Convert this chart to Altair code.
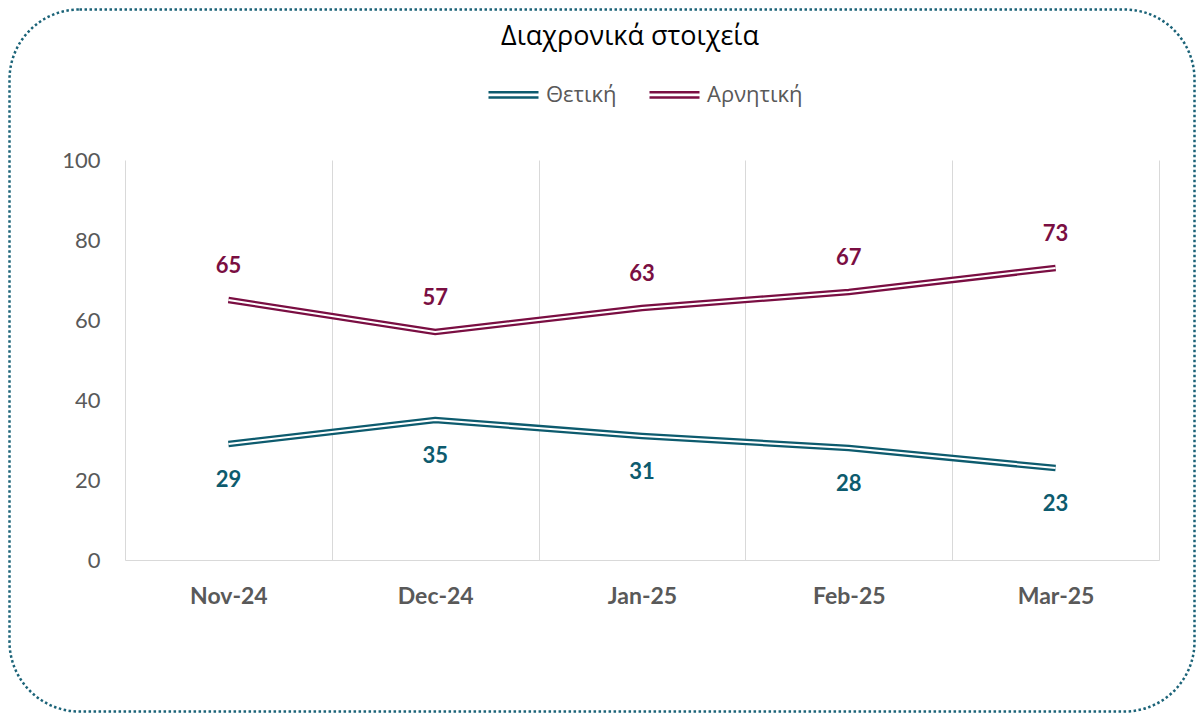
import altair as alt
import pandas as pd

months = ["Nov-24", "Dec-24", "Jan-25", "Feb-25", "Mar-25"]
series_names = ["Θετική", "Αρνητική"]
positive = [29, 35, 31, 28, 23]
negative = [65, 57, 63, 67, 73]
y_ticks = [0, 20, 40, 60, 80, 100]
colors = ["#0D5B6E", "#7A0E42"]
title_text = "Διαχρονικά στοιχεία"

rows = []
for m, v in zip(months, positive):
    rows.append({"month": m, "series": series_names[0], "value": v})
for m, v in zip(months, negative):
    rows.append({"month": m, "series": series_names[1], "value": v})
df = pd.DataFrame(rows)

W, H = 1034, 400
GREY = "#595959"

x_enc = alt.X(
    "month:N",
    sort=months,
    bandPosition=0.5,
    scale=alt.Scale(type="band", paddingInner=0, paddingOuter=0),
    axis=alt.Axis(
        title=None,
        labelAngle=0,
        grid=True,
        gridColor="#D9D9D9",
        gridWidth=1,
        tickBand="extent",
        tickExtra=True,
        ticks=False,
        tickSize=0,
        domainColor="#D9D9D9",
        domainWidth=1,
        labelFont="Lato",
        labelFontWeight="bold",
        labelFontSize=23,
        labelColor=GREY,
        labelPadding=25,
    ),
)
y_enc = alt.Y(
    "value:Q",
    scale=alt.Scale(domain=[0, 100], nice=False, zero=True),
    axis=alt.Axis(
        title=None,
        values=y_ticks,
        grid=False,
        domain=False,
        ticks=False,
        tickSize=0,
        labelFont="Lato",
        labelFontSize=22,
        labelColor=GREY,
        labelPadding=25,
    ),
)

base = alt.Chart(df)

border = alt.Chart(alt.Data(values=[{"k": 1}])).mark_rect(
    fill="transparent",
    stroke="#1B6378",
    strokeWidth=2.5,
    strokeDash=[2.5, 2.5],
    cornerRadius=70,
).encode(
    x=alt.value(-115.5),
    x2=alt.value(W + 35.5),
    y=alt.value(-150.5),
    y2=alt.value(H + 151.5),
)

lines = base.mark_line(strokeWidth=6.5, strokeCap="butt", strokeJoin="miter").encode(
    x=x_enc,
    y=y_enc,
    color=alt.Color(
        "series:N",
        scale=alt.Scale(domain=series_names, range=colors),
        sort=series_names,
        legend=alt.Legend(
            title=None,
            orient="none",
            direction="horizontal",
            legendX=362,
            legendY=-92,
            symbolType="M-1,-0.105H1M-1,0.105H1",
            symbolSize=2500,
            symbolStrokeWidth=2.5,
            labelFont="Open Sans",
            labelFontSize=22,
            labelColor=GREY,
            labelOffset=6,
            columnPadding=27,
            padding=0,
        ),
    ),
)

inner = base.mark_line(strokeWidth=2, color="white", strokeCap="butt", strokeJoin="miter").encode(
    x=x_enc,
    y=y_enc,
    detail="series:N",
)

text_pos = base.transform_filter(alt.datum.series == series_names[0]).mark_text(
    font="Lato", fontWeight="bold", fontSize=22, color=colors[0], dy=36, baseline="middle"
).encode(x=x_enc, y=y_enc, text="value:Q")

text_neg = base.transform_filter(alt.datum.series == series_names[1]).mark_text(
    font="Lato", fontWeight="bold", fontSize=22, color=colors[1], dy=-34, baseline="middle"
).encode(x=x_enc, y=y_enc, text="value:Q")

chart = alt.layer(border, lines, inner, text_pos, text_neg).properties(
    width=W,
    height=H,
    autosize=alt.AutoSizeParams(type="none"),
    padding={"left": 117, "top": 152, "right": 37, "bottom": 153},
    title=alt.TitleParams(
        text=title_text,
        font="Open Sans",
        fontSize=27,
        fontWeight="normal",
        color="#000000",
        anchor="middle",
        frame="group",
        offset=-43,
        dx=-12,
    ),
).configure(
    background="white",
    view=alt.ViewConfig(stroke="transparent", strokeWidth=0),
)

chart.save("out.html", embed_options={"renderer": "svg", "actions": False})
